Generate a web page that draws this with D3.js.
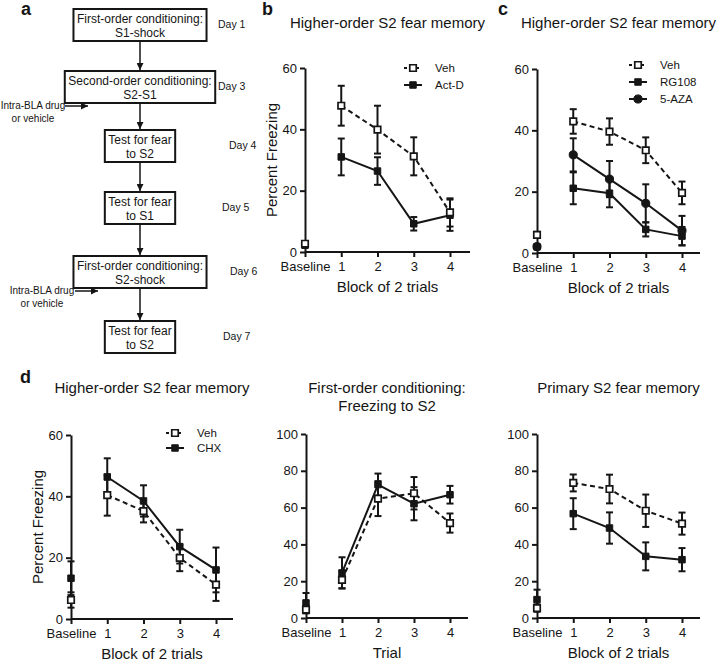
<!DOCTYPE html>
<html>
<head>
<meta charset="utf-8">
<script src="https://cdn.jsdelivr.net/npm/d3@7"></script>
<style>
  body { margin: 0; background: #fff; }
  svg { font-family: "Liberation Sans", Arial, sans-serif; }
</style>
</head>
<body>
<svg id="fig" width="720" height="661"></svg>
<script>
const categories = ['Baseline', '1', '2', '3', '4'];

// panel b
const bVeh = [2.7, 47.7, 39.9, 31.2, 12.9];
const bVehSem = [0.5, 6.5, 7.8, 6.2, 4.6];
const bActD = [2.2, 31.0, 26.4, 9.2, 12.0];
const bActDSem = [0.5, 6.0, 4.5, 2.2, 5.1];

// panel c
const cVeh = [5.9, 42.9, 39.6, 33.5, 19.6];
const cVehSem = [1.0, 4.0, 4.3, 4.2, 3.7];
const cRG108 = [2.0, 21.1, 19.5, 7.7, 5.5];
const cRG108Sem = [0.5, 5.2, 4.6, 2.3, 3.0];
const cAZA = [2.1, 32.0, 24.1, 16.2, 7.3];
const cAZASem = [0.5, 5.4, 5.9, 6.2, 4.8];

// panel d, left (higher-order)
const d1Veh = [6.2, 40.4, 35.2, 19.9, 11.2];
const d1VehSem = [2.5, 6.7, 3.7, 4.3, 5.3];
const d1CHX = [13.3, 46.3, 38.5, 23.6, 16.0];
const d1CHXSem = [5.5, 6.1, 5.1, 5.5, 7.3];

// panel d, middle (first-order conditioning)
const d2Veh = [4.5, 20.7, 64.9, 67.8, 51.6];
const d2VehSem = [2.0, 4.5, 9.5, 8.8, 5.2];
const d2CHX = [8.2, 24.5, 72.5, 62.1, 67.0];
const d2CHXSem = [5.4, 8.5, 6.0, 9.0, 4.8];

// panel d, right (primary)
const d3Veh = [5.4, 73.4, 70.1, 58.3, 51.3];
const d3VehSem = [2.0, 4.6, 7.8, 8.8, 6.0];
const d3CHX = [10.0, 56.7, 48.9, 33.5, 31.7];
const d3CHXSem = [5.4, 8.4, 8.5, 7.6, 6.3];

const ticks60 = [0, 20, 40, 60];
const ticks100 = [0, 20, 40, 60, 80, 100];

// flowchart (panel a)
const steps = [
  ['First-order conditioning:', 'S1-shock'],
  ['Second-order conditioning:', 'S2-S1'],
  ['Test for fear', 'to S2'],
  ['Test for fear', 'to S1'],
  ['First-order conditioning:', 'S2-shock'],
  ['Test for fear', 'to S2']
];
const days = ['Day 1', 'Day 3', 'Day 4', 'Day 5', 'Day 6', 'Day 7'];
const drugLabel = ['Intra-BLA drug', 'or vehicle'];

const ink = '#151515';
const svg = d3.select('#fig');

// ---------- panel a ----------
svg.append('defs').append('marker')
  .attr('id', 'head')
  .attr('viewBox', '0 0 10 10')
  .attr('refX', 10).attr('refY', 5)
  .attr('markerWidth', 7).attr('markerHeight', 7)
  .attr('markerUnits', 'userSpaceOnUse')
  .attr('orient', 'auto')
  .append('path').attr('d', 'M0,0L10,5L0,10Z').attr('fill', ink);

const boxTops = [9, 71, 130, 192, 256, 321];
const boxH = 32;
const cx = 140;
const dayX = [218, 218, 229, 222, 230, 223];

const fa = svg.append('g');
steps.forEach((lines, i) => {
  const g = fa.append('g');
  const t = g.selectAll('text').data(lines).enter().append('text')
    .attr('x', cx)
    .attr('y', (d, j) => boxTops[i] + 14 + j * 14)
    .attr('text-anchor', 'middle')
    .style('font-size', '12px')
    .attr('fill', ink)
    .text(d => d);
  let w = 0;
  t.each(function () { w = Math.max(w, this.getComputedTextLength()); });
  w += 7;
  g.insert('rect', 'text')
    .attr('x', cx - w / 2).attr('y', boxTops[i])
    .attr('width', w).attr('height', boxH)
    .attr('fill', '#fff').attr('stroke', ink).attr('stroke-width', 2);

  fa.append('text')
    .attr('x', dayX[i]).attr('y', boxTops[i] + 19)
    .style('font-size', '10.5px').attr('fill', ink)
    .text(days[i]);

  if (i < steps.length - 1) {
    fa.append('line')
      .attr('x1', cx).attr('x2', cx)
      .attr('y1', boxTops[i] + boxH).attr('y2', boxTops[i + 1] - 1)
      .attr('stroke', ink).attr('stroke-width', 1.5)
      .attr('marker-end', 'url(#head)');
  }
});

// drug infusion notes next to second-order and S2-shock days
[[1, 33, 65, 88], [4, 42, 75, 98]].forEach(([i, tx, ax1, ax2]) => {
  const yb = boxTops[i] + boxH + 5;
  fa.selectAll(null).data(drugLabel).enter().append('text')
    .attr('x', tx).attr('y', (d, j) => yb + 1 + j * 13)
    .attr('text-anchor', 'middle')
    .style('font-size', '10px').attr('fill', ink)
    .text(d => d);
  fa.append('line')
    .attr('x1', ax1).attr('x2', ax2)
    .attr('y1', yb - 2).attr('y2', yb - 2)
    .attr('stroke', ink).attr('stroke-width', 1.5)
    .attr('marker-end', 'url(#head)');
});

// ---------- line panels ----------
const shapes = { square: d3.symbolSquare, circle: d3.symbolCircle };

function drawPanel(p) {
  const x = d3.scalePoint().domain(categories).range([p.left, p.right]);
  const y = d3.scaleLinear().domain([0, p.yMax]).range([p.bottom, p.top]);
  const g = svg.append('g');

  const yg = g.append('g')
    .attr('transform', `translate(${p.left},0)`)
    .call(d3.axisLeft(y).tickValues(p.yTicks).tickSize(5).tickSizeOuter(0).tickPadding(3));
  const xg = g.append('g')
    .attr('transform', `translate(0,${p.bottom})`)
    .call(d3.axisBottom(x).tickSize(5).tickSizeOuter(0).tickPadding(5));
  xg.select('.domain').attr('d', `M${p.left},0H${p.axisEnd}`);

  [yg, xg].forEach(a => {
    a.selectAll('path, line').attr('stroke', ink).attr('stroke-width', 2);
    a.selectAll('text').attr('fill', ink).style('font-size', '13px').attr('font-family', null);
  });

  const mid = (p.left + p.axisEnd) / 2;
  g.append('text')
    .attr('x', mid).attr('y', p.bottom + 40)
    .attr('text-anchor', 'middle')
    .style('font-size', '15px').attr('fill', ink)
    .text(p.xLabel);

  if (p.yLabel) {
    g.append('text')
      .attr('transform', `translate(${p.left - 33},${(p.top + p.bottom) / 2}) rotate(-90)`)
      .attr('dy', '0.35em')
      .attr('text-anchor', 'middle')
      .style('font-size', '15px').attr('fill', ink)
      .text(p.yLabel);
  }

  g.selectAll(null).data(p.title).enter().append('text')
    .attr('x', mid).attr('y', (d, i) => p.titleY + i * 18)
    .attr('text-anchor', 'middle')
    .style('font-size', '15px').attr('fill', ink)
    .text(d => d);

  p.series.forEach(s => {
    const pts = s.mean.map((m, i) => ({ c: categories[i], m, e: s.sem[i] }));
    g.append('path')
      .datum(pts.slice(1))
      .attr('d', d3.line().x(d => x(d.c)).y(d => y(d.m)))
      .attr('fill', 'none')
      .attr('stroke', ink).attr('stroke-width', 2)
      .attr('stroke-dasharray', s.dashed ? '5,3.5' : null);

    const eb = g.selectAll(null).data(pts).enter().append('g')
      .attr('stroke', ink).attr('stroke-width', 2);
    eb.append('line')
      .attr('x1', d => x(d.c)).attr('x2', d => x(d.c))
      .attr('y1', d => y(d.m - d.e)).attr('y2', d => y(d.m + d.e));
    eb.append('line')
      .attr('x1', d => x(d.c) - 3.5).attr('x2', d => x(d.c) + 3.5)
      .attr('y1', d => y(d.m + d.e)).attr('y2', d => y(d.m + d.e));
    eb.append('line')
      .attr('x1', d => x(d.c) - 3.5).attr('x2', d => x(d.c) + 3.5)
      .attr('y1', d => y(Math.max(0, d.m - d.e))).attr('y2', d => y(Math.max(0, d.m - d.e)));

    g.selectAll(null).data(pts).enter().append('path')
      .attr('transform', d => `translate(${x(d.c)},${y(d.m)})`)
      .attr('d', d3.symbol(shapes[s.shape], s.shape === 'circle' ? 52 : 42))
      .attr('fill', s.open ? '#fff' : ink)
      .attr('stroke', ink)
      .attr('stroke-width', s.open ? 1.7 : 1);
  });

  if (p.legend) {
    const lg = g.selectAll(null).data(p.legend.items).enter().append('g')
      .attr('transform', (d, i) => `translate(${p.legend.x},${p.legend.y + i * p.legend.step})`);
    lg.append('line')
      .attr('x1', -9).attr('x2', 9)
      .attr('stroke', ink).attr('stroke-width', 2)
      .attr('stroke-dasharray', d => p.series[d.s].dashed ? '3,3' : null);
    lg.append('path')
      .attr('d', d => d3.symbol(shapes[p.series[d.s].shape], p.series[d.s].shape === 'circle' ? 52 : 42)())
      .attr('fill', d => p.series[d.s].open ? '#fff' : ink)
      .attr('stroke', ink)
      .attr('stroke-width', d => p.series[d.s].open ? 1.7 : 1);
    lg.append('text')
      .attr('x', 22).attr('dy', '0.35em')
      .style('font-size', '11.5px').attr('fill', ink)
      .text(d => d.label);
  }
}

drawPanel({
  left: 305, right: 450, axisEnd: 470, top: 68, bottom: 252, yMax: 60, yTicks: ticks60,
  title: ['Higher-order S2 fear memory'], titleY: 28,
  xLabel: 'Block of 2 trials', yLabel: 'Percent Freezing',
  series: [
    { mean: bActD, sem: bActDSem, shape: 'square', open: false, dashed: false },
    { mean: bVeh, sem: bVehSem, shape: 'square', open: true, dashed: true }
  ],
  legend: { x: 413, y: 68, step: 17, items: [{ label: 'Veh', s: 1 }, { label: 'Act-D', s: 0 }] }
});

drawPanel({
  left: 537, right: 682, axisEnd: 700, top: 69, bottom: 253, yMax: 60, yTicks: ticks60,
  title: ['Higher-order S2 fear memory'], titleY: 28,
  xLabel: 'Block of 2 trials',
  series: [
    { mean: cRG108, sem: cRG108Sem, shape: 'square', open: false, dashed: false },
    { mean: cAZA, sem: cAZASem, shape: 'circle', open: false, dashed: false },
    { mean: cVeh, sem: cVehSem, shape: 'square', open: true, dashed: true }
  ],
  legend: { x: 638, y: 65, step: 17, items: [{ label: 'Veh', s: 2 }, { label: 'RG108', s: 0 }, { label: '5-AZA', s: 1 }] }
});

drawPanel({
  left: 71, right: 216, axisEnd: 233, top: 435, bottom: 619, yMax: 60, yTicks: ticks60,
  title: ['Higher-order S2 fear memory'], titleY: 393,
  xLabel: 'Block of 2 trials', yLabel: 'Percent Freezing',
  series: [
    { mean: d1CHX, sem: d1CHXSem, shape: 'square', open: false, dashed: false },
    { mean: d1Veh, sem: d1VehSem, shape: 'square', open: true, dashed: true }
  ],
  legend: { x: 175, y: 433, step: 15, items: [{ label: 'Veh', s: 1 }, { label: 'CHX', s: 0 }] }
});

drawPanel({
  left: 306, right: 450, axisEnd: 468, top: 434, bottom: 618, yMax: 100, yTicks: ticks100,
  title: ['First-order conditioning:', 'Freezing to S2'], titleY: 393,
  xLabel: 'Trial',
  series: [
    { mean: d2CHX, sem: d2CHXSem, shape: 'square', open: false, dashed: false },
    { mean: d2Veh, sem: d2VehSem, shape: 'square', open: true, dashed: true }
  ]
});

drawPanel({
  left: 537, right: 682, axisEnd: 700, top: 434, bottom: 618, yMax: 100, yTicks: ticks100,
  title: ['Primary S2 fear memory'], titleY: 393,
  xLabel: 'Block of 2 trials',
  series: [
    { mean: d3CHX, sem: d3CHXSem, shape: 'square', open: false, dashed: false },
    { mean: d3Veh, sem: d3VehSem, shape: 'square', open: true, dashed: true }
  ]
});

// panel letters
svg.selectAll('.letter')
  .data([['a', 21, 15], ['b', 262, 15], ['c', 498, 15], ['d', 20, 383]])
  .enter().append('text')
  .attr('class', 'letter')
  .attr('x', d => d[1]).attr('y', d => d[2])
  .style('font-size', '18px').style('font-weight', 'bold').attr('fill', ink)
  .text(d => d[0]);
</script>
</body>
</html>
